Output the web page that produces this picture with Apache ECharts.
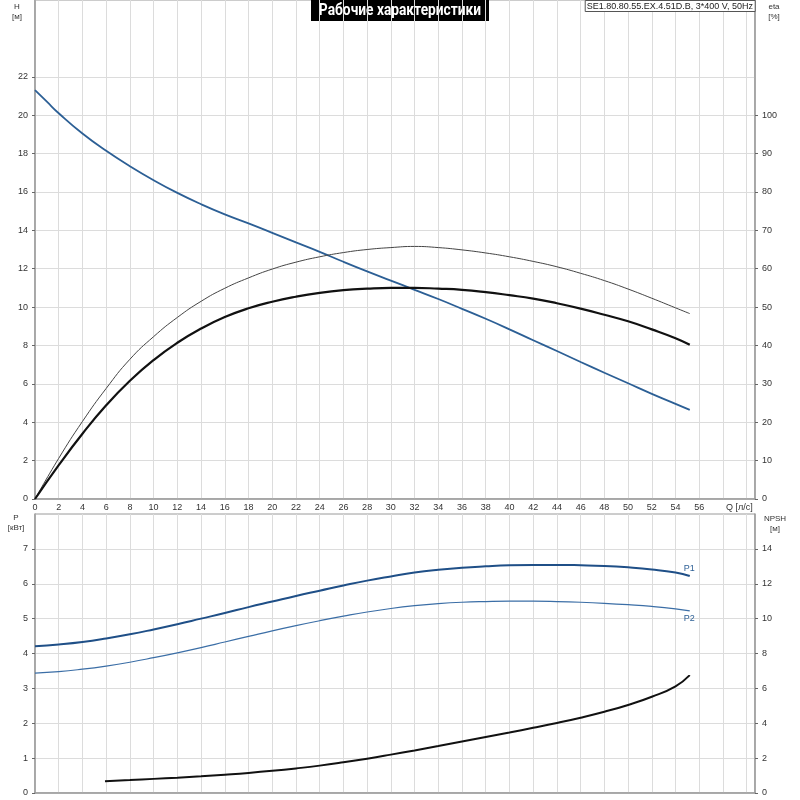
<!DOCTYPE html>
<html>
<head>
<meta charset="utf-8">
<script src="https://cdn.jsdelivr.net/npm/echarts@6/dist/echarts.min.js"></script>
<style>html,body{margin:0;padding:0;background:#fff;}#c{width:800px;height:800px;}</style>
</head>
<body>
<div id="c"></div>
<script>
// ---- Data ----
const qTop      = [0, 1, 2, 4, 6, 8, 10, 12, 14, 16, 18, 20, 22, 24, 26, 28, 30, 32, 34, 36, 38, 40, 42, 44, 46, 48, 50, 52, 54, 55.2];
const headH     = [21.3, 20.7, 20.1, 19.04, 18.14, 17.34, 16.61, 15.95, 15.36, 14.83, 14.36, 13.87, 13.37, 12.88, 12.36, 11.86, 11.38, 10.9, 10.42, 9.91, 9.39, 8.84, 8.27, 7.71, 7.14, 6.58, 6.03, 5.48, 4.96, 4.64];
const qEta      = [0, 2, 4, 6, 8, 10, 12, 14, 16, 18, 20, 22, 24, 26, 28, 30, 32, 34, 36, 38, 40, 42, 44, 46, 48, 50, 52, 54, 55.2];
const etaThin   = [0, 10.6, 20.2, 28.8, 36.4, 42.3, 47.3, 51.5, 54.9, 57.6, 59.9, 61.7, 63.1, 64.2, 65.0, 65.5, 65.8, 65.5, 64.9, 64.1, 63.1, 61.9, 60.5, 58.8, 56.9, 54.7, 52.3, 49.8, 48.3];
const etaThick  = [0, 8.8, 17.0, 24.4, 30.8, 36.2, 40.7, 44.4, 47.4, 49.7, 51.4, 52.7, 53.7, 54.4, 54.8, 55.0, 55.0, 54.8, 54.5, 53.9, 53.1, 52.2, 51.0, 49.6, 48.0, 46.3, 44.2, 41.9, 40.2];
const qPow      = [0, 2, 4, 6, 8, 10, 12, 14, 16, 18, 20, 22, 24, 26, 28, 30, 32, 34, 36, 38, 40, 42, 44, 46, 48, 50, 52, 54, 55.2];
const powerP1   = [4.21, 4.26, 4.33, 4.43, 4.55, 4.69, 4.84, 5.00, 5.16, 5.33, 5.49, 5.65, 5.80, 5.95, 6.09, 6.21, 6.32, 6.40, 6.46, 6.50, 6.53, 6.54, 6.54, 6.53, 6.51, 6.47, 6.41, 6.32, 6.22];
const powerP2   = [3.44, 3.48, 3.55, 3.64, 3.75, 3.88, 4.02, 4.17, 4.33, 4.49, 4.65, 4.80, 4.94, 5.07, 5.19, 5.29, 5.37, 5.43, 5.47, 5.49, 5.50, 5.50, 5.49, 5.47, 5.44, 5.40, 5.35, 5.28, 5.22];
const qNpsh     = [5.9, 8, 10, 12, 14, 16, 18, 20, 22, 24, 26, 28, 30, 32, 34, 36, 38, 40, 42, 44, 46, 48, 50, 52, 54, 55.2];
const npsh      = [0.67, 0.74, 0.81, 0.88, 0.96, 1.05, 1.15, 1.27, 1.41, 1.57, 1.76, 1.97, 2.20, 2.44, 2.69, 2.95, 3.21, 3.47, 3.74, 4.02, 4.32, 4.66, 5.05, 5.52, 6.12, 6.76];
const hTicks    = [0, 2, 4, 6, 8, 10, 12, 14, 16, 18, 20, 22];
const etaTicks  = [0, 10, 20, 30, 40, 50, 60, 70, 80, 90, 100];
const pTicks    = [0, 1, 2, 3, 4, 5, 6, 7];
const npshTicks = [0, 2, 4, 6, 8, 10, 12, 14];
const qTicks    = [0, 2, 4, 6, 8, 10, 12, 14, 16, 18, 20, 22, 24, 26, 28, 30, 32, 34, 36, 38, 40, 42, 44, 46, 48, 50, 52, 54, 56];

const pairs = (xs, ys) => xs.map((x, i) => [x, ys[i]]);
const FONT = 'Liberation Sans, Arial, sans-serif';
const GRID_C = '#dcdcdc', AXIS_C = '#9a9a9a', TXT = '#333';

function xAx(gi, showLabels) {
  return {
    type: 'value', gridIndex: gi, min: 0, max: 60.7, interval: 2,
    axisLine: { show: true, lineStyle: { color: AXIS_C, width: 1.5 } },
    axisTick: { show: false },
    axisLabel: { show: showLabels, fontSize: 9, color: TXT, fontFamily: FONT, margin: 4, customValues: qTicks },
    splitLine: { show: true, lineStyle: { color: GRID_C, width: 1 } }
  };
}
function yAx(gi, pos, max, interval, ticks, split) {
  return {
    type: 'value', gridIndex: gi, position: pos, min: 0, max: max, interval: interval,
    axisLine: { show: true, lineStyle: { color: AXIS_C, width: 1.5 } },
    axisTick: { show: true, length: 3, lineStyle: { color: '#666' }, customValues: ticks },
    axisLabel: { fontSize: 9, color: TXT, fontFamily: FONT, margin: 7, customValues: ticks },
    splitLine: { show: split, lineStyle: { color: GRID_C, width: 1 } }
  };
}
function smallText(x, y, txt) {
  return { type: 'text', x: x, y: y, style: { text: txt, fontSize: 8, fill: TXT, fontFamily: FONT, align: 'center', verticalAlign: 'top', lineHeight: 10 } };
}

const chart = echarts.init(document.getElementById('c'), null, { renderer: 'canvas' });
chart.setOption({
  animation: false,
  backgroundColor: '#fff',
  title: [
    { text: 'SE1.80.80.55.EX.4.51D.B, 3*400 V, 50Hz', right: 45, top: 0, backgroundColor: '#fff', borderColor: '#555', borderWidth: 1, padding: [2, 2, 1, 2],
      textStyle: { color: '#222', fontSize: 9, fontWeight: 'normal', fontFamily: FONT } }
  ],
  grid: [
    { left: 35, right: 45, top: 0, height: 499, containLabel: false, show: true, borderColor: AXIS_C, borderWidth: 1, backgroundColor: 'transparent' },
    { left: 35, right: 45, top: 514, height: 279, containLabel: false, show: true, borderColor: AXIS_C, borderWidth: 1, backgroundColor: 'transparent' }
  ],
  xAxis: [xAx(0, true), xAx(1, false)],
  yAxis: [
    yAx(0, 'left', 26, 2, hTicks, true),
    yAx(0, 'right', 130, 10, etaTicks, false),
    yAx(1, 'left', 8, 1, pTicks, true),
    yAx(1, 'right', 16, 2, npshTicks, false)
  ],
  graphic: [
    { type: 'group', x: 400, y: 0, children: [
      { type: 'rect', shape: { x: -89, y: 0, width: 178, height: 21 }, style: { fill: '#000' } },
      { type: 'text', x: 0, y: 10.5, scaleX: 0.86, style: { text: 'Рабочие характеристики', fill: '#fff', font: 'bold 16px Roboto, sans-serif', align: 'center', verticalAlign: 'middle' } }
    ] },
    smallText(17, 2, 'H\n[м]'),
    smallText(774, 2, 'eta\n[%]'),
    { type: 'text', x: 726, y: 503, style: { text: 'Q [л/с]', fontSize: 9, fill: TXT, fontFamily: FONT } },
    smallText(16, 513, 'P\n[кВт]'),
    smallText(775, 514, 'NPSH\n[м]')
  ],
  series: [
    { name: 'H', type: 'line', xAxisIndex: 0, yAxisIndex: 0, smooth: 0.5, symbol: 'none',
      data: pairs(qTop, headH), lineStyle: { color: '#2c5f95', width: 1.8 } },
    { name: 'eta thin', type: 'line', xAxisIndex: 0, yAxisIndex: 1, smooth: 0.5, symbol: 'none',
      data: pairs(qEta, etaThin), lineStyle: { color: '#444', width: 1 } },
    { name: 'eta', type: 'line', xAxisIndex: 0, yAxisIndex: 1, smooth: 0.5, symbol: 'none',
      data: pairs(qEta, etaThick), lineStyle: { color: '#111', width: 2.2 } },
    { name: 'P1', type: 'line', xAxisIndex: 1, yAxisIndex: 2, smooth: 0.5, symbol: 'none',
      data: pairs(qPow, powerP1), lineStyle: { color: '#1f4f87', width: 2 },
      endLabel: { show: true, formatter: 'P1', fontSize: 9, color: '#2c5f95', fontFamily: FONT, offset: [-14, -8] } },
    { name: 'P2', type: 'line', xAxisIndex: 1, yAxisIndex: 2, smooth: 0.5, symbol: 'none',
      data: pairs(qPow, powerP2), lineStyle: { color: '#3b6ea6', width: 1.2 },
      endLabel: { show: true, formatter: 'P2', fontSize: 9, color: '#2c5f95', fontFamily: FONT, offset: [-14, 8] } },
    { name: 'NPSH', type: 'line', xAxisIndex: 1, yAxisIndex: 3, smooth: 0.5, symbol: 'none',
      data: pairs(qNpsh, npsh), lineStyle: { color: '#111', width: 2 } }
  ]
});
</script>
</body>
</html>
